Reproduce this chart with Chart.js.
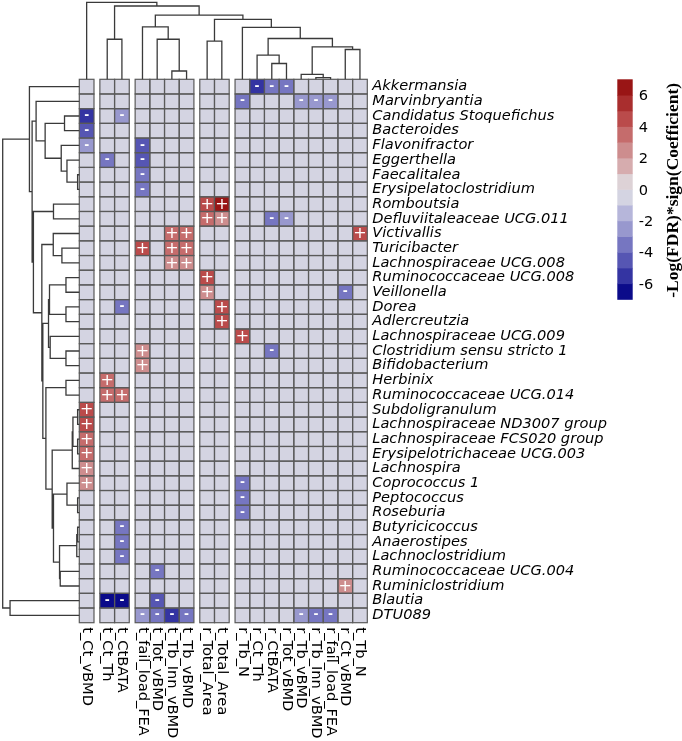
<!DOCTYPE html>
<html>
<head>
<meta charset="utf-8">
<script src="https://cdn.jsdelivr.net/npm/chart.js@4.4.1/dist/chart.umd.min.js"></script>
<style>
html,body{margin:0;padding:0;background:#ffffff;overflow:hidden;}
canvas{display:block;}
</style>
</head>
<body>
<canvas id="c" width="682" height="741" style="width:682px;height:741px"></canvas>
<script>
// ---------------- DATA ----------------
const rowLabels = ["Akkermansia","Marvinbryantia","Candidatus Stoquefichus","Bacteroides","Flavonifractor","Eggerthella","Faecalitalea","Erysipelatoclostridium","Romboutsia","Defluviitaleaceae UCG.011","Victivallis","Turicibacter","Lachnospiraceae UCG.008","Ruminococcaceae UCG.008","Veillonella","Dorea","Adlercreutzia","Lachnospiraceae UCG.009","Clostridium sensu stricto 1","Bifidobacterium","Herbinix","Ruminococcaceae UCG.014","Subdoligranulum","Lachnospiraceae ND3007 group","Lachnospiraceae FCS020 group","Erysipelotrichaceae UCG.003","Lachnospira","Coprococcus 1","Peptococcus","Roseburia","Butyricicoccus","Anaerostipes","Lachnoclostridium","Ruminococcaceae UCG.004","Ruminiclostridium","Blautia","DTU089"];

const colLabels = ["t_Ct_vBMD","t_Ct_Th","t_CtBATA","t_fail_load_FEA","t_Tot_vBMD","t_Tb_Inn_vBMD","t_Tb_vBMD","r_Total_Area","t_Total_Area","r_Tb_N","r_Ct_Th","r_CtBATA","r_Tot_vBMD","r_Tb_vBMD","r_Tb_Inn_vBMD","r_fail_load_FEA","r_Ct_vBMD","t_Tb_N"];

// column cluster membership (cutree, k = 5)
const colClusters = [1,2,2,3,3,3,3,4,4,5,5,5,5,5,5,5,5,5];

// significant associations: [genus, bone parameter, -log(FDR)*sign(coef)]
const associations = [
  ["Akkermansia","r_Ct_Th",-5.5],["Akkermansia","r_CtBATA",-3.5],["Akkermansia","r_Tot_vBMD",-3.5],
  ["Marvinbryantia","r_Tb_N",-3.5],["Marvinbryantia","r_Tb_vBMD",-2.5],["Marvinbryantia","r_Tb_Inn_vBMD",-2.5],["Marvinbryantia","r_fail_load_FEA",-2.5],
  ["Candidatus Stoquefichus","t_Ct_vBMD",-5.5],["Candidatus Stoquefichus","t_CtBATA",-2.5],
  ["Bacteroides","t_Ct_vBMD",-4.5],
  ["Flavonifractor","t_Ct_vBMD",-2.5],["Flavonifractor","t_fail_load_FEA",-4.5],
  ["Eggerthella","t_Ct_Th",-3.5],["Eggerthella","t_fail_load_FEA",-4.5],
  ["Faecalitalea","t_fail_load_FEA",-3.5],
  ["Erysipelatoclostridium","t_fail_load_FEA",-3.5],
  ["Romboutsia","r_Total_Area",4.5],["Romboutsia","t_Total_Area",6.5],
  ["Defluviitaleaceae UCG.011","r_Total_Area",3.5],["Defluviitaleaceae UCG.011","t_Total_Area",2.5],["Defluviitaleaceae UCG.011","r_CtBATA",-3.5],["Defluviitaleaceae UCG.011","r_Tot_vBMD",-2.5],
  ["Victivallis","t_Tb_Inn_vBMD",3.5],["Victivallis","t_Tb_vBMD",3.5],["Victivallis","t_Tb_N",4.5],
  ["Turicibacter","t_fail_load_FEA",4.5],["Turicibacter","t_Tb_Inn_vBMD",3.5],["Turicibacter","t_Tb_vBMD",3.5],
  ["Lachnospiraceae UCG.008","t_Tb_Inn_vBMD",2.5],["Lachnospiraceae UCG.008","t_Tb_vBMD",2.5],
  ["Ruminococcaceae UCG.008","r_Total_Area",4.5],
  ["Veillonella","r_Total_Area",2.5],["Veillonella","r_Ct_vBMD",-3.5],
  ["Dorea","t_CtBATA",-3.5],["Dorea","t_Total_Area",4.5],
  ["Adlercreutzia","t_Total_Area",4.5],
  ["Lachnospiraceae UCG.009","r_Tb_N",4.5],
  ["Clostridium sensu stricto 1","t_fail_load_FEA",2.5],["Clostridium sensu stricto 1","r_CtBATA",-3.5],
  ["Bifidobacterium","t_fail_load_FEA",2.5],
  ["Herbinix","t_Ct_Th",3.5],
  ["Ruminococcaceae UCG.014","t_Ct_Th",3.5],["Ruminococcaceae UCG.014","t_CtBATA",3.5],
  ["Subdoligranulum","t_Ct_vBMD",4.5],
  ["Lachnospiraceae ND3007 group","t_Ct_vBMD",4.5],
  ["Lachnospiraceae FCS020 group","t_Ct_vBMD",3.5],
  ["Erysipelotrichaceae UCG.003","t_Ct_vBMD",3.5],
  ["Lachnospira","t_Ct_vBMD",2.5],
  ["Coprococcus 1","t_Ct_vBMD",2.5],["Coprococcus 1","r_Tb_N",-3.5],
  ["Peptococcus","r_Tb_N",-3.5],
  ["Roseburia","r_Tb_N",-3.5],
  ["Butyricicoccus","t_CtBATA",-3.5],
  ["Anaerostipes","t_CtBATA",-3.5],
  ["Lachnoclostridium","t_CtBATA",-3.5],
  ["Ruminococcaceae UCG.004","t_Tot_vBMD",-3.5],
  ["Ruminiclostridium","r_Ct_vBMD",2.5],
  ["Blautia","t_Ct_Th",-6.5],["Blautia","t_CtBATA",-6.5],["Blautia","t_Tot_vBMD",-4.5],
  ["DTU089","t_fail_load_FEA",-2.5],["DTU089","t_Tot_vBMD",-3.5],["DTU089","t_Tb_Inn_vBMD",-5.5],["DTU089","t_Tb_vBMD",-3.5],["DTU089","r_Tb_vBMD",-2.5],["DTU089","r_Tb_Inn_vBMD",-3.5],["DTU089","r_fail_load_FEA",-3.5]
];

// hclust-style merges: negative = leaf -(index+1), positive = earlier merge (1-based); third = height
const colMerges = [
  [-6,-7,1.08],[-5,1,5.2],[-4,2,6.8],[-2,-3,5.2],[-8,-9,4.95],[-12,-13,2.05],[-11,6,3.13],
  [-15,-16,0.22],[-14,8,0.65],[-17,-18,3.87],[9,10,4.2],[7,11,5.3],[-10,12,6.74],[5,13,7.78],
  [3,14,8.34],[4,15,9.52],[-1,16,10]
];
const rowMerges = [
  [-7,-8,0.22],[-6,1,1.61],[-5,2,2.36],[-3,-4,1.93],[4,3,4.46],[-2,5,5.64],
  [-9,-10,3.37],[-12,-13,2.27],[-11,8,3.4],[-14,-15,1.74],[-16,-17,1.74],[10,11,3.89],
  [-19,-20,1.74],[-18,13,3.8],[12,14,4.02],[-21,-22,1.74],[-23,-24,0.22],[-25,-26,0.22],
  [17,18,0.83],[19,-27,0.92],[-29,-30,0.22],[-28,21,1.61],[-31,-32,0.22],[23,-33,0.33],
  [-34,-35,2.49],[24,25,2.58],[22,26,3.37],[20,27,3.54],[16,28,4.36],[15,29,4.76],
  [9,30,4.89],[7,31,5.99],[6,32,6.16],[-1,33,6.51],[-36,-37,9.04],[34,35,10]
];

const legendTicks = [6,4,2,0,-2,-4,-6];
const legendMin = -7, legendMax = 7;
const legendTitle = "-Log(FDR)*sign(Coefficient)";

// ---------------- STYLE / LAYOUT ----------------
const binColors = ['#0b0b8a','#3434a2','#5656b3','#7676c1','#9898ce','#b6b6da','#d4d4e2',
                   '#ddd2d6','#d6acae','#cd8d8e','#c56c6c','#ba4b4b','#a92e2e','#991515'];
function colorFor(v){
  if (v === 0) return binColors[6];
  let k = Math.floor(v) + 7;
  k = Math.max(0, Math.min(13, k));
  return binColors[k];
}
const GAP = 0.4; // gap between column clusters (in column units)
function colPos(c){ return c + GAP * (colClusters[c] - 1); }
const xMax = colPos(colLabels.length - 1) + 1;

// build cell table from data arrays
const valueMap = {};
associations.forEach(a => { valueMap[a[0] + '|' + a[1]] = a[2]; });
const cells = [];
rowLabels.forEach((rn, r) => {
  colLabels.forEach((cn, c) => {
    const v = valueMap[rn + '|' + cn] || 0;
    cells.push({x: colPos(c) + 0.5, y: r + 0.5, v: v, r: r, c: c});
  });
});

function drawDendro(ctx, merges, leafPix, hPix, vertical) {
  const pos = [], hgt = [];
  const info = idx => idx < 0 ? {p: leafPix(-idx - 1), h: 0} : {p: pos[idx - 1], h: hgt[idx - 1]};
  ctx.beginPath();
  merges.forEach((m, i) => {
    const a = info(m[0]), b = info(m[1]);
    pos[i] = (a.p + b.p) / 2; hgt[i] = m[2];
    const H = hPix(m[2]);
    if (vertical) {
      ctx.moveTo(a.p, hPix(a.h)); ctx.lineTo(a.p, H); ctx.lineTo(b.p, H); ctx.lineTo(b.p, hPix(b.h));
    } else {
      ctx.moveTo(hPix(a.h), a.p); ctx.lineTo(H, a.p); ctx.lineTo(H, b.p); ctx.lineTo(hPix(b.h), b.p);
    }
  });
  ctx.stroke();
}

const heatPlugin = {
  id: 'heatmap',
  afterDatasetsDraw(chart) {
    const ctx = chart.ctx, ca = chart.chartArea;
    const xs = chart.scales.x, ys = chart.scales.y;
    const data = chart.data.datasets[0].data;
    const meta = chart.getDatasetMeta(0);
    ctx.save();
    // cells
    data.forEach((d) => {
      const l = xs.getPixelForValue(d.x - 0.5), r = xs.getPixelForValue(d.x + 0.5);
      const t = ys.getPixelForValue(d.y - 0.5), b = ys.getPixelForValue(d.y + 0.5);
      ctx.fillStyle = colorFor(d.v);
      ctx.fillRect(l, t, r - l, b - t);
    });
    ctx.strokeStyle = '#5a5a5a'; ctx.lineWidth = 1.2;
    data.forEach((d) => {
      const l = xs.getPixelForValue(d.x - 0.5), r = xs.getPixelForValue(d.x + 0.5);
      const t = ys.getPixelForValue(d.y - 0.5), b = ys.getPixelForValue(d.y + 0.5);
      ctx.strokeRect(l, t, r - l, b - t);
    });
    // signs
    ctx.fillStyle = '#ffffff'; ctx.textAlign = 'center'; ctx.textBaseline = 'middle';
    data.forEach((d, i) => {
      if (d.v === 0) return;
      const pt = meta.data[i];
      if (d.v > 0) { ctx.font = '16px "DejaVu Sans"'; ctx.fillText('+', pt.x, pt.y + 0.5); }
      else { ctx.font = 'bold 12px "DejaVu Sans"'; ctx.fillText('-', pt.x, pt.y); }
    });
    // row labels
    ctx.fillStyle = '#000'; ctx.textAlign = 'left'; ctx.textBaseline = 'middle';
    ctx.font = 'italic 14.6px "DejaVu Sans"';
    rowLabels.forEach((lab, r) => {
      ctx.fillText(lab, ca.right + 5, ys.getPixelForValue(r + 0.5));
    });
    // column labels
    ctx.font = '14.6px "DejaVu Sans"';
    colLabels.forEach((lab, c) => {
      const cx = xs.getPixelForValue(colPos(c) + 0.5);
      ctx.save();
      ctx.translate(cx, ca.bottom + 4.5);
      ctx.rotate(Math.PI / 2);
      ctx.textAlign = 'left'; ctx.textBaseline = 'middle';
      ctx.fillText(lab, 0, 0);
      ctx.restore();
    });
    // dendrograms
    ctx.strokeStyle = '#3a3a3a'; ctx.lineWidth = 1.3;
    const topRoot = 2.3, leftRoot = 2.7;
    const cMax = Math.max(...colMerges.map(m => m[2]));
    const rMax = Math.max(...rowMerges.map(m => m[2]));
    drawDendro(ctx, colMerges, c => xs.getPixelForValue(colPos(c) + 0.5),
      h => ca.top - h / cMax * (ca.top - topRoot), true);
    drawDendro(ctx, rowMerges, r => ys.getPixelForValue(r + 0.5),
      h => ca.left - h / rMax * (ca.left - leftRoot), false);
    // colour key
    const bx = 617.3, bw = 15.4, by0 = 79.3, by1 = 299.3;
    const vy = v => by0 + (legendMax - v) / (legendMax - legendMin) * (by1 - by0);
    for (let v = legendMin; v < legendMax; v++) {
      ctx.fillStyle = colorFor(v + 0.5);
      const yTop = vy(v + 1), yBot = vy(v);
      ctx.fillRect(bx, yTop, bw, yBot - yTop + 0.5);
    }
    ctx.fillStyle = '#000'; ctx.font = '14.6px "DejaVu Sans"'; ctx.textAlign = 'left'; ctx.textBaseline = 'middle';
    legendTicks.forEach(t => ctx.fillText(String(t), bx + bw + 6, vy(t) + 1.5));
    ctx.save();
    ctx.translate(673.5, (by0 + by1) / 2 + 1);
    ctx.rotate(-Math.PI / 2);
    ctx.font = 'bold 17.5px "Liberation Serif"'; ctx.textAlign = 'center'; ctx.textBaseline = 'middle';
    ctx.fillText(legendTitle, 0, 0);
    ctx.restore();
    ctx.restore();
  }
};

new Chart(document.getElementById('c').getContext('2d'), {
  type: 'scatter',
  data: { datasets: [{ data: cells, pointRadius: 0, pointHoverRadius: 0, parsing: {xAxisKey: 'x', yAxisKey: 'y'} }] },
  options: {
    responsive: false,
    animation: false,
    events: [],
    layout: { padding: { left: 79.3, top: 79.3, right: 682 - 367.3, bottom: 741 - 622.7 } },
    scales: {
      x: { type: 'linear', min: 0, max: xMax, display: false },
      y: { type: 'linear', min: 0, max: rowLabels.length, reverse: true, display: false }
    },
    plugins: { legend: { display: false }, tooltip: { enabled: false } }
  },
  plugins: [heatPlugin]
});
</script>
</body>
</html>
